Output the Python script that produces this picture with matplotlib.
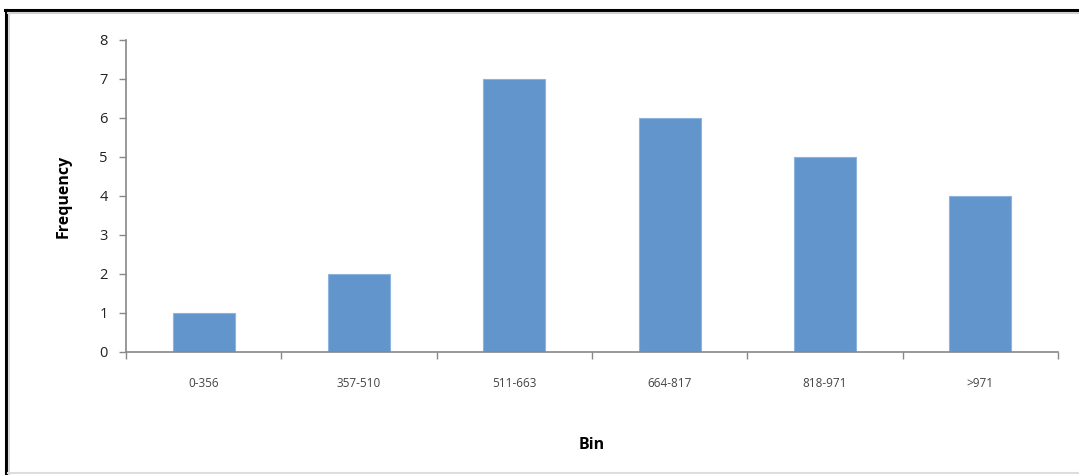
import numpy as np
import matplotlib.pyplot as plt
from matplotlib.lines import Line2D

bins = ["0-356", "357-510", "511-663", "664-817", "818-971", ">971"]
freq = [1, 2, 7, 6, 5, 4]

plt.rcParams['font.family'] = ['Open Sans', 'DejaVu Sans']

fig = plt.figure(figsize=(10.79, 4.75), dpi=100)
ax = fig.add_axes([0.1168, 0.259, 0.8637, 0.6568])

x = np.arange(len(bins))
ax.bar(x, freq, width=0.4, color="#6195cc", edgecolor="#8db4de", linewidth=0.8)

ax.set_xlim(-0.5, len(bins) - 0.5)
ax.set_ylim(0, 8)
ax.set_yticks(range(0, 9))
ax.set_xticks(x)
ax.set_xticklabels(bins, fontsize=8.5, color="#444444")
ax.set_xticks(np.arange(-0.5, len(bins)), minor=True)
ax.tick_params(axis="x", which="major", length=0, pad=18)
ax.tick_params(axis="x", which="minor", length=5, width=1, color="#888888", direction="out")
ax.tick_params(axis="y", length=5, width=1, color="#888888", labelsize=10.5,
               labelcolor="#222222", pad=8)

for s in ["top", "right"]:
    ax.spines[s].set_visible(False)
for s in ["left", "bottom"]:
    ax.spines[s].set_color("#888888")
    ax.spines[s].set_linewidth(1.2)

ax.set_ylabel("Frequency", fontsize=11.5, fontweight="bold", labelpad=20)
ax.set_xlabel("Bin", fontsize=11.5, fontweight="bold", labelpad=34)

# frame around the chart area
fig.add_artist(Line2D([0.005, 1.0], [0.978, 0.978], color="black", lw=2.2))
fig.add_artist(Line2D([0.0055, 0.0055], [0.0, 0.978], color="black", lw=2.2))
fig.add_artist(Line2D([0.007, 1.0], [0.972, 0.972], color="#d0d0d0", lw=1.5))
fig.add_artist(Line2D([0.008, 0.008], [0.0, 0.972], color="#d8d8d8", lw=1.5))
fig.add_artist(Line2D([0.007, 1.0], [0.005, 0.005], color="#dddddd", lw=1.5))

fig.savefig("out.png", dpi=100)
